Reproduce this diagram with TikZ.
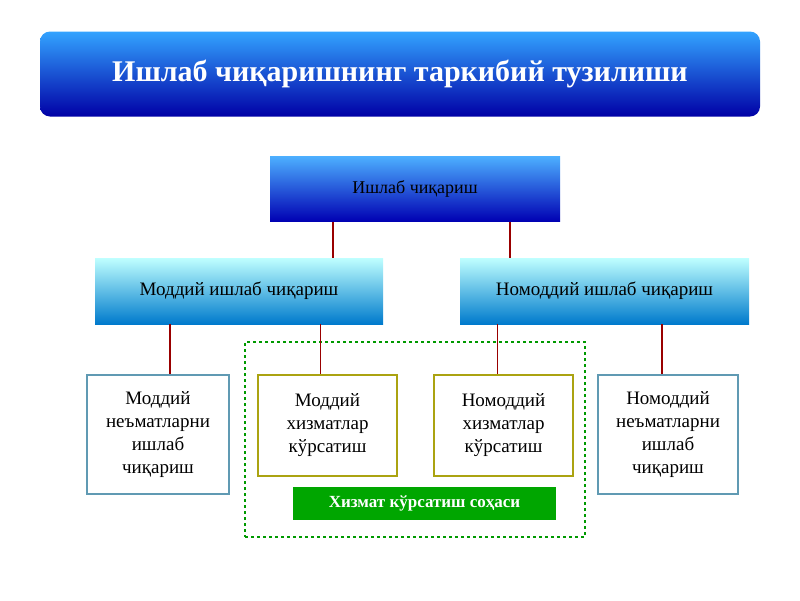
\documentclass[tikz,border=0pt]{standalone}
\usepackage{fontspec}
\setmainfont{Liberation Serif}
\begin{document}
\begin{tikzpicture}[x=1pt,y=-1pt,
  blue/.style={draw=none,top color=blue!45!cyan!70!white,bottom color=blue!70!black,text=black,inner sep=0},
  teal/.style={draw=none,top color=cyan!25!white,bottom color=cyan!60!blue!80!black,text=black,inner sep=0},
  leaf/.style={draw=#1,line width=1.2pt,fill=white,align=center,font=\fontsize{19}{23}\selectfont,inner sep=0},
  conn/.style={draw=red!60!black,line width=1.8pt}]
\useasboundingbox (0,0) rectangle (800,600);
\node[rounded corners=10pt,top color=blue!45!cyan!80!white,bottom color=blue!65!black,draw=none,
  minimum width=720,minimum height=85,text=white,font=\bfseries\fontsize{30}{34}\selectfont]
  (title) at (400,74) {Ишлаб чиқаришнинг таркибий тузилиши};
\node[blue,minimum width=290,minimum height=65,font=\fontsize{18}{22}\selectfont] (top) at (415,189) {Ишлаб чиқариш};
\node[teal,minimum width=288,minimum height=66,font=\fontsize{19}{22}\selectfont] (ml) at (239,291) {Моддий ишлаб чиқариш};
\node[teal,minimum width=289,minimum height=66,font=\fontsize{19}{22}\selectfont] (mr) at (604.5,291) {Номоддий ишлаб чиқариш};
\node[leaf=cyan!60!black!80,minimum width=142,minimum height=119] (b1) at (158,434.5) {Моддий\\неъматларни\\ишлаб\\чиқариш};
\node[leaf=olive!60!yellow!90!black,minimum width=139,minimum height=101] (b2) at (327.5,425.5) {Моддий\\хизматлар\\кўрсатиш};
\node[leaf=olive!60!yellow!90!black,minimum width=139,minimum height=101] (b3) at (503.5,425.5) {Номоддий\\хизматлар\\кўрсатиш};
\node[leaf=cyan!60!black!80,minimum width=140,minimum height=119] (b4) at (668,434.5) {Номоддий\\неъматларни\\ишлаб\\чиқариш};
\node[draw=green!60!black,dashed,line width=1.5pt,minimum width=340,minimum height=195,inner sep=0] (area) at (415,439.5) {};
\node[fill=green!65!black,text=white,font=\bfseries\fontsize{17}{20}\selectfont,minimum width=263,minimum height=33,inner sep=0] (lab) at (424.5,503.5) {Хизмат кўрсатиш соҳаси};
\draw[conn] ([xshift=-82pt]top.south) -- ([xshift=-82pt]top.south |- ml.north);
\draw[conn] ([xshift=95pt]top.south) -- ([xshift=95pt]top.south |- mr.north);
\draw[conn] (ml.south -| b1.north) ++(12,0) coordinate (c1) -- (c1 |- b1.north);
\draw[conn] (ml.south -| b2.north) ++(-7,0) coordinate (c2) -- (c2 |- b2.north);
\draw[conn] (mr.south -| b3.north) ++(-6,0) coordinate (c3) -- (c3 |- b3.north);
\draw[conn] (mr.south -| b4.north) ++(-6,0) coordinate (c4) -- (c4 |- b4.north);
\end{tikzpicture}
\end{document}
